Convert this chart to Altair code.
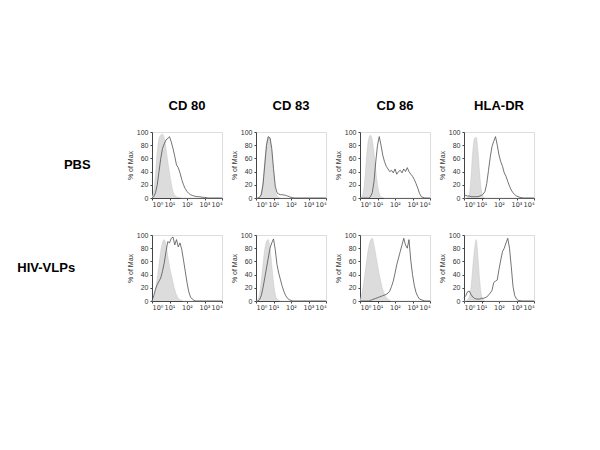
import altair as alt
import pandas as pd

# log10 fluorescence positions (decades 10^0 .. 10^4)
x_log = [0.0, 0.1, 0.2, 0.3, 0.4, 0.5, 0.6, 0.7, 0.8, 0.9,
         1.0, 1.1, 1.2, 1.3, 1.4, 1.5, 1.6, 1.7, 1.8, 1.9,
         2.0, 2.1, 2.2, 2.3, 2.4, 2.5, 2.6, 2.7, 2.8, 2.9,
         3.0, 3.1, 3.2, 3.3, 3.4, 3.5, 3.6, 3.7, 3.8, 3.9, 4.0]

rows = ["PBS", "HIV-VLPs"]
cols = ["CD 80", "CD 83", "CD 86", "HLA-DR"]
tick_labels = ["10⁰", "10¹", "10²", "10³", "10⁴"]

# isotype control (grey filled) and sample (line) histograms, % of Max
pbs_cd80_iso = [2, 10, 35, 70, 90, 95, 97, 90, 75, 55, 38, 22, 10, 4, 2, 1, 0.5]
pbs_cd80 = [0, 2, 8, 20, 40, 60, 75, 82, 88, 90, 93, 85, 75, 63, 50, 46, 38, 28, 20, 14,
            10, 7, 5, 4, 3, 2.5, 2, 2, 1.5, 1, 1, 0.5]
pbs_cd83_iso = [0, 0, 2, 8, 25, 55, 82, 92, 90, 70, 38, 12, 3, 1]
pbs_cd83 = [0, 0, 1, 5, 20, 50, 80, 93, 91, 75, 45, 18, 8, 6, 5, 5, 4.5, 4, 3, 2, 1, 0.5]
pbs_cd86_iso = [0, 2, 10, 35, 70, 90, 95, 88, 68, 42, 20, 7, 2, 1]
pbs_cd86 = [0, 0, 0, 0, 0, 0, 2, 8, 25, 55, 80, 93, 80, 65, 55, 48, 44, 40, 42, 38,
            44, 36, 40, 42, 38, 44, 40, 46, 40, 36, 33, 28, 22, 15, 7, 2, 1]
pbs_hla_iso = [0, 0, 1, 5, 30, 70, 90, 92, 70, 35, 10, 2]
pbs_hla = [3, 4, 3, 3, 2, 2, 2, 2, 2, 3, 4, 6, 10, 22, 42, 62, 78, 86, 93, 80,
           65, 55, 48, 38, 33, 25, 18, 12, 8, 5, 3, 2, 1, 0.5]

hiv_cd80_iso = [0, 3, 15, 35, 55, 75, 88, 93, 85, 68, 52, 40, 28, 17, 9, 4, 2, 1]
hiv_cd80 = [0, 8, 18, 25, 30, 35, 45, 58, 75, 90, 88, 95, 97, 85, 93, 82, 88, 78, 62, 45,
            28, 14, 6, 3, 1]
hiv_cd83_iso = [0, 2, 10, 30, 55, 78, 90, 93, 80, 55, 28, 10, 3, 1]
hiv_cd83 = [0, 0, 2, 8, 20, 35, 50, 65, 80, 88, 94, 78, 55, 42, 32, 22, 14, 8, 4, 2, 1]
hiv_cd86_iso = [1, 10, 25, 45, 65, 82, 92, 95, 85, 70, 55, 40, 28, 17, 10, 5, 3, 1]
hiv_cd86 = [0, 0, 0, 0, 0, 0, 1, 2, 3, 4, 5, 6, 7, 8, 9, 10, 12, 15, 22, 30,
            42, 55, 65, 75, 85, 95, 85, 80, 93, 62, 40, 24, 13, 7, 3, 2, 1]
hiv_hla_iso = [0, 0, 2, 6, 20, 50, 78, 93, 65, 30, 8, 2]
hiv_hla = [5, 8, 14, 15, 10, 6, 4, 3, 3, 3, 4, 4, 5, 6, 9, 12, 16, 28, 30, 32,
           48, 62, 75, 80, 88, 95, 80, 52, 22, 8, 3, 1, 0.5]

panels = [
    ("PBS", "CD 80", pbs_cd80_iso, pbs_cd80),
    ("PBS", "CD 83", pbs_cd83_iso, pbs_cd83),
    ("PBS", "CD 86", pbs_cd86_iso, pbs_cd86),
    ("PBS", "HLA-DR", pbs_hla_iso, pbs_hla),
    ("HIV-VLPs", "CD 80", hiv_cd80_iso, hiv_cd80),
    ("HIV-VLPs", "CD 83", hiv_cd83_iso, hiv_cd83),
    ("HIV-VLPs", "CD 86", hiv_cd86_iso, hiv_cd86),
    ("HIV-VLPs", "HLA-DR", hiv_hla_iso, hiv_hla),
]


def pad(v):
    return list(v) + [0] * (len(x_log) - len(v))


records = []
for r, c, iso, smp in panels:
    for kind, vals in (("iso", iso), ("sample", smp)):
        for xv, yv in zip(x_log, pad(vals)):
            records.append({"row": r, "col": c, "kind": kind, "x": xv, "y": yv})
df = pd.DataFrame(records)

FONT = "Liberation Sans"
label_expr = "['" + "','".join(tick_labels) + "'][datum.value]"

x_enc = alt.X("x:Q", scale=alt.Scale(domain=[0, 4], nice=False),
              axis=alt.Axis(values=[0, 1, 2, 3, 4], labelExpr=label_expr, title=None,
                            grid=False, labelFontSize=6.5, tickSize=2, labelPadding=1,
                            domainColor="#444", tickColor="#444", labelColor="#333",
                            labelFont="DejaVu Sans"))
y_enc = alt.Y("y:Q", scale=alt.Scale(domain=[0, 100], nice=False),
              axis=alt.Axis(values=[0, 20, 40, 60, 80, 100], title="% of Max", grid=False,
                            labelFontSize=7, titleFontSize=7, titleFontWeight="normal",
                            tickSize=2, labelPadding=2, titlePadding=3,
                            domainColor="#444", tickColor="#444", labelColor="#333",
                            titleColor="#333", labelFont=FONT, titleFont=FONT))

area = alt.Chart().transform_filter(alt.datum.kind == "iso").mark_area(
    color="#dcdcdc", opacity=1, interpolate="monotone",
    line={"color": "#c4c4c4", "strokeWidth": 0.5}
).encode(x=x_enc, y=y_enc)

line = alt.Chart().transform_filter(alt.datum.kind == "sample").mark_line(
    color="#505050", strokeWidth=0.8, interpolate="linear"
).encode(x=x_enc, y=y_enc)

chart = alt.layer(area, line, data=df).properties(width=70, height=66).facet(
    row=alt.Row("row:N", sort=rows,
                header=alt.Header(title=None, labelAngle=0, labelOrient="left",
                                  labelFontWeight="bold", labelFontSize=13,
                                  labelFont=FONT, labelAlign="center", labelPadding=21)),
    column=alt.Column("col:N", sort=cols,
                      header=alt.Header(title=None, labelFontWeight="bold",
                                        labelFontSize=13, labelFont=FONT,
                                        labelPadding=14)),
    spacing={"row": 22, "column": 4},
).resolve_axis(x="independent", y="independent").configure_view(
    stroke="#888888", strokeWidth=0.8
).properties(
    padding={"left": 9, "top": 92, "right": 5, "bottom": 5}
).configure(background="white")

chart.save("out.html", embed_options={"renderer": "svg", "actions": False})
